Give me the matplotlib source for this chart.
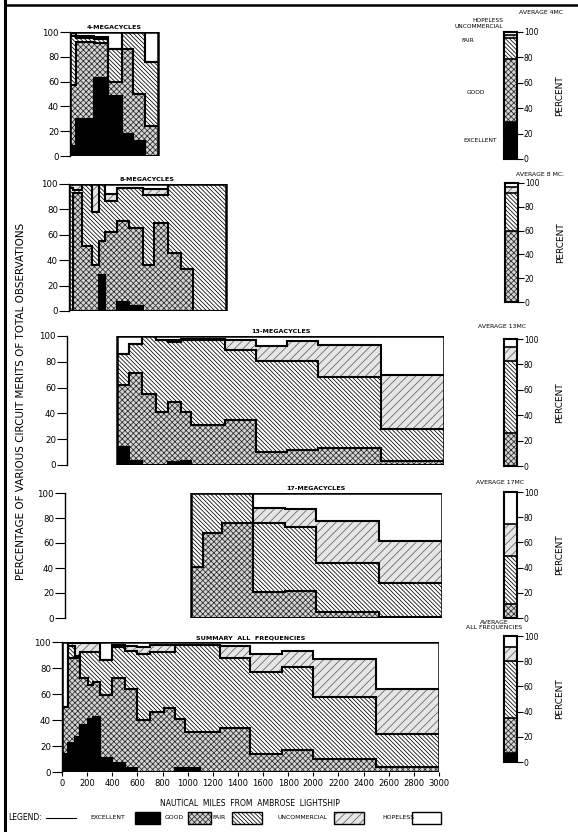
import numpy as np
import matplotlib.pyplot as plt
from matplotlib.patches import Rectangle
from matplotlib.lines import Line2D

plt.rcParams['font.family'] = 'DejaVu Sans'
plt.rcParams['hatch.linewidth'] = 0.55

W, H = 578, 832

# cumulative tops (percent) of each merit band per mileage bin
# bands from bottom: excellent, good, fair, uncommercial, (hopeless up to 100)
MC4_EDGES = [0, 50, 190, 300, 410, 500, 600, 700]
MC4_EXC = [8, 30, 63, 48, 18, 12, 0]
MC4_GOOD = [57, 92, 91, 60, 86, 50, 24]
MC4_FAIR = [97, 95, 94, 86, 100, 100, 76]
MC4_UNC = [99, 97, 96, 86, 100, 100, 76]

MC8_EDGES = [0, 35, 105, 185, 240, 290, 385, 480, 585, 680, 785, 890, 990, 1250]
MC8_EXC = [0, 0, 0, 0, 28, 0, 7, 4, 0, 0, 0, 0, 0]
MC8_GOOD = [0, 93, 51, 36, 55, 62, 71, 65, 36, 69, 46, 33, 0]
MC8_FAIR = [97, 95, 100, 78, 100, 87, 97, 97, 91, 91, 100, 100, 100]
MC8_UNC = [100, 100, 100, 100, 100, 92, 97, 97, 96, 96, 100, 100, 100]

MC13_EDGES = [400, 495, 600, 710, 800, 910, 990, 1260, 1505, 1750, 2000, 2500, 3000]
MC13_EXC = [14, 3, 0, 0, 2, 3, 0, 0, 0, 0, 0, 0]
MC13_GOOD = [62, 71, 55, 41, 49, 41, 31, 35, 10, 12, 13, 3]
MC13_FAIR = [86, 94, 100, 97, 95, 97, 97, 89, 81, 81, 68, 28]
MC13_UNC = [86, 94, 100, 97, 97, 98, 98, 97, 92, 96, 93, 70]

MC17_EDGES = [1000, 1100, 1250, 1500, 1750, 2000, 2500, 3000]
MC17_EXC = [0, 0, 0, 0, 0, 0, 0]
MC17_GOOD = [41, 68, 76, 21, 22, 5, 1]
MC17_FAIR = [100, 100, 100, 76, 73, 44, 28]
MC17_UNC = [100, 100, 100, 88, 87, 78, 62]

SUM_EDGES = [0, 50, 100, 145, 210, 250, 304, 400, 503, 596, 702, 808, 900, 980,
             1100, 1258, 1500, 1750, 2000, 2500, 3000]
SUM_EXC = [14, 22, 27, 36, 41, 42, 11, 7, 3, 0, 0, 0, 3, 3, 0, 0, 0, 0, 0, 0]
SUM_GOOD = [50, 88, 88, 72, 67, 69, 59, 72, 64, 40, 46, 49, 41, 31, 31, 34, 14, 17, 10, 4]
SUM_FAIR = [50, 97, 89, 92, 92, 92, 86, 96, 93, 91, 92, 92, 98, 98, 98, 88, 77, 81, 58, 29]
SUM_UNC = [50, 99, 99, 99, 99, 99, 86, 98, 97, 96, 98, 98, 98, 98, 98, 97, 91, 93, 87, 64]

TITLES = ['4-MEGACYCLES', '8-MEGACYCLES', '13-MEGACYCLES', '17-MEGACYCLES',
          'SUMMARY  ALL  FREQUENCIES']

# average bars
AVG_TITLES = ['AVERAGE 4MC', 'AVERAGE 8 MC.', 'AVERAGE 13MC', 'AVERAGE 17MC',
              'AVERAGE\nALL FREQUENCIES']
AVG_EXC = [29, 0, 0, 0, 7]
AVG_GOOD = [79, 60, 26, 11, 35]
AVG_FAIR = [95, 92, 83, 49, 80]
AVG_UNC = [98, 97, 94, 75, 91]

MERITS = ['EXCELLENT', 'GOOD', 'FAIR', 'UNCOMMERCIAL', 'HOPELESS']
XTICKS = list(range(0, 3001, 200))

# looks of the bands
STYLE = [dict(fc='black', hc='black', hatch=None),
         dict(fc='#d4d4d4', hc='#2a2a2a', hatch='x' * 6),
         dict(fc='white', hc='black', hatch='\\' * 8),
         dict(fc='#e6e6e6', hc='#606060', hatch='/' * 4),
         dict(fc='white', hc='white', hatch=None)]

fig = plt.figure(figsize=(W / 100, H / 100), dpi=100)
fig.patch.set_facecolor('white')


def px_axes(l, t, r, b):
    return fig.add_axes([l / W, 1 - b / H, (r - l) / W, (b - t) / H])


def draw_panel(ax, edges, exc, good, fair, unc, title):
    x = np.asarray(edges, float)
    n = len(exc)
    tops = [np.zeros(n), np.asarray(exc, float), np.asarray(good, float),
            np.asarray(fair, float), np.asarray(unc, float), np.full(n, 100.0)]
    for k, st in enumerate(STYLE):
        lo = np.append(tops[k], tops[k][-1])
        hi = np.append(tops[k + 1], tops[k + 1][-1])
        ax.fill_between(x, lo, hi, step='post', facecolor=st['fc'],
                        edgecolor=st['hc'], hatch=st['hatch'], linewidth=0)
    for t in tops[1:5]:
        ax.stairs(t, x, baseline=None, color='black', lw=1.5)
    ax.add_patch(Rectangle((x[0], 0), x[-1] - x[0], 100, fill=False,
                           lw=1.8, ec='black', zorder=3))
    ax.text((x[0] + x[-1]) / 2, 101.5, title, ha='center', va='bottom',
            fontsize=4.6, fontweight='bold')
    ax.set_xlim(0, 3000)
    ax.set_ylim(0, 100)
    for s in ['top', 'right', 'bottom']:
        ax.spines[s].set_visible(False)
    ax.spines['left'].set_linewidth(1.0)
    ax.set_yticks(range(0, 101, 20))
    ax.tick_params(axis='y', length=7, width=0.8, labelsize=6.2, pad=1)
    ax.set_facecolor('none')


PANELS = [(MC4_EDGES, MC4_EXC, MC4_GOOD, MC4_FAIR, MC4_UNC, (70, 32, 156)),
          (MC8_EDGES, MC8_EXC, MC8_GOOD, MC8_FAIR, MC8_UNC, (69, 184, 311)),
          (MC13_EDGES, MC13_EXC, MC13_GOOD, MC13_FAIR, MC13_UNC, (67, 336, 465)),
          (MC17_EDGES, MC17_EXC, MC17_GOOD, MC17_FAIR, MC17_UNC, (65, 493, 618)),
          (SUM_EDGES, SUM_EXC, SUM_GOOD, SUM_FAIR, SUM_UNC, (62, 642, 772))]

for i, (ed, e, g, f, u, (x0, top, bot)) in enumerate(PANELS):
    ax = px_axes(x0, top, x0 + 377, bot)
    draw_panel(ax, ed, e, g, f, u, TITLES[i])
    if i == len(PANELS) - 1:
        ax.set_xticks(XTICKS)
        ax.set_xticklabels([str(v) for v in XTICKS])
        ax.tick_params(axis='x', length=3, width=0.8, labelsize=6, pad=2)
    else:
        ax.set_xticks([])

# average bars on the right
AVG_BOX = [(504, 32, 517, 159), (505, 183, 518, 302), (504, 339, 517, 466),
           (504, 492, 517, 618), (504, 636, 517, 762)]
AVG_TITLE_POS = [(541, 13), (540, 175), (502, 326), (500, 482), (494, 625)]
for i in range(5):
    ax = px_axes(*AVG_BOX[i])
    tops = [0, AVG_EXC[i], AVG_GOOD[i], AVG_FAIR[i], AVG_UNC[i], 100]
    for k, st in enumerate(STYLE):
        ax.bar(0, tops[k + 1] - tops[k], bottom=tops[k], width=1,
               facecolor=st['fc'], edgecolor=st['hc'], hatch=st['hatch'], lw=0)
    for t in tops[1:5]:
        if 0 < t < 100:
            ax.axhline(t, color='black', lw=1.2)
    ax.set_xlim(-0.5, 0.5)
    ax.set_ylim(0, 100)
    ax.set_xticks([])
    for s in ax.spines.values():
        s.set_linewidth(1.5)
    ax.yaxis.tick_right()
    ax.set_yticks(range(0, 101, 20))
    ax.tick_params(axis='y', length=4, width=0.8, labelsize=5.5, pad=1)
    ax.set_ylabel('PERCENT', fontsize=6.5)
    ax.yaxis.set_label_position('right')
    ax.yaxis.set_label_coords(3.9, 0.5)
    tx, ty = AVG_TITLE_POS[i]
    fig.text(tx / W, 1 - ty / H, AVG_TITLES[i], ha='center', va='center',
             fontsize=4.4, linespacing=0.95)

# merit names beside the first average bar
MERIT_POS = [(497, 141, 'right'), (476, 92, 'center'), (461, 41, 'left'),
             (503, 27, 'right'), (503, 20, 'right')]
for name, (tx, ty, ha) in zip(MERITS, MERIT_POS):
    fig.text(tx / W, 1 - ty / H, name, ha=ha, va='center', fontsize=4.2)

# axis labels
fig.text(21 / W, 1 - 401 / H,
         'PERCENTAGE OF VARIOUS CIRCUIT MERITS OF TOTAL OBSERVATIONS',
         rotation=90, ha='center', va='center', fontsize=7.5)
fig.text(250 / W, 1 - 803 / H, 'NAUTICAL  MILES  FROM  AMBROSE  LIGHTSHIP',
         ha='center', va='center', fontsize=5.5)

# legend row
lg = px_axes(0, 808, W, 828)
lg.set_xlim(0, W)
lg.set_ylim(828, 808)
lg.axis('off')
lg.text(8, 818, 'LEGEND:', fontsize=5.5, va='center')
lg.plot([46, 76], [818, 818], color='black', lw=0.8)
LEG_TEXT_X = [90, 165, 212, 278, 382]
LEG_BOX = [(135, 160), (188, 211), (232, 262), (334, 364), (412, 441)]
for k, name in enumerate(MERITS):
    lg.text(LEG_TEXT_X[k], 818, name, fontsize=4.4, va='center')
    bx0, bx1 = LEG_BOX[k]
    st = STYLE[k]
    lg.add_patch(Rectangle((bx0, 812), bx1 - bx0, 12, facecolor=st['fc'],
                           edgecolor=st['hc'], hatch=st['hatch'], lw=0))
    lg.add_patch(Rectangle((bx0, 812), bx1 - bx0, 12, fill=False,
                           edgecolor='black', lw=1.0))

# page frame
fig.add_artist(Line2D([5 / W, 5 / W], [0, 1], color='black', lw=2.2))
fig.add_artist(Line2D([5 / W, 1], [1 - 5 / H, 1 - 5 / H], color='black', lw=1.8))

fig.savefig('out.png', dpi=100, facecolor='white')
